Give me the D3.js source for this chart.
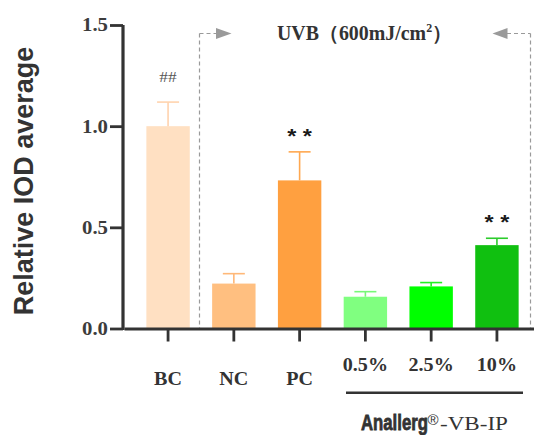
<!DOCTYPE html>
<html><head><meta charset="utf-8">
<script src="https://cdn.jsdelivr.net/npm/d3@7/dist/d3.min.js"></script>
<style>html,body{margin:0;padding:0;background:#fff;}svg{display:block;}</style>
</head><body>
<script>
const categories = ["BC","NC","PC","0.5%","2.5%","10%"];
const means = [1.00, 0.222, 0.732, 0.157, 0.208, 0.412];
const errors = [0.119, 0.049, 0.141, 0.025, 0.019, 0.034];
const barColors = ["#FFE0C2","#FFBF80","#FFA040","#80FF80","#00FF00","#10C010"];
const errColors = ["#FFD3AE","#FFB878","#FFA850","#78F878","#22F022","#2CCC2C"];
const yTicks = [0, 0.5, 1.0, 1.5];
const marks = ["##","","* *","","","* *"];

const W = 534, H = 435;
const svg = d3.select("body").append("svg").attr("width", W).attr("height", H);

const x = d3.scaleBand().domain(categories).range([124, 541]).paddingInner(0.34).paddingOuter(0.34);
const y = d3.scaleLinear().domain([0, 1.5]).range([328.5, 25]);

function fit(sel, target) {
  const n = sel.node();
  const w = n.getBBox().width;
  const k = target / w;
  const ax = +sel.attr("x"), ay = +sel.attr("y");
  sel.attr("transform", `translate(${ax},${ay}) scale(${k},1) translate(${-ax},${-ay})`);
}

// dashed UVB bracket
const dash = svg.append("g").attr("stroke", "#9a9a9a").attr("stroke-width", 1.2).attr("stroke-dasharray", "4,3").attr("fill", "none");
const xl = 199.5, xr = 530.5, yt = 33.5;
dash.append("line").attr("x1", xl).attr("x2", xl).attr("y1", yt).attr("y2", y(0));
dash.append("line").attr("x1", xl).attr("x2", 217).attr("y1", yt).attr("y2", yt);
dash.append("line").attr("x1", xr).attr("x2", xr).attr("y1", yt).attr("y2", y(0));
dash.append("line").attr("x1", 507).attr("x2", xr).attr("y1", yt).attr("y2", yt);
svg.append("path").attr("d", `M216,${yt-5.5}L231.5,${yt}L216,${yt+5.5}Z`).attr("fill", "#9a9a9a");
svg.append("path").attr("d", `M507.5,${yt-5.5}L492.5,${yt}L507.5,${yt+5.5}Z`).attr("fill", "#9a9a9a");

const uvb = svg.append("text").attr("x", 277).attr("y", 40).attr("font-family", "Liberation Serif, serif")
  .attr("font-weight", "bold").attr("font-size", 20).attr("fill", "#333");
uvb.append("tspan").text("UVB（600mJ/cm");
uvb.append("tspan").attr("dy", -8).attr("font-size", 12).text("2");
uvb.append("tspan").attr("dy", 8).text("）");
fit(uvb, 175);

// bars
svg.append("g").selectAll("rect").data(categories).join("rect")
  .attr("x", d => x(d)).attr("width", x.bandwidth())
  .attr("y", (d, i) => y(means[i])).attr("height", (d, i) => y(0) - y(means[i]))
  .attr("fill", (d, i) => barColors[i]);

// error bars
const eb = svg.append("g");
categories.forEach((c, i) => {
  const cx = x(c) + x.bandwidth() / 2;
  eb.append("line").attr("x1", cx).attr("x2", cx).attr("y1", y(means[i])).attr("y2", y(means[i] + errors[i]))
    .attr("stroke", errColors[i]).attr("stroke-width", 1.6);
  eb.append("line").attr("x1", cx - 11).attr("x2", cx + 11).attr("y1", y(means[i] + errors[i])).attr("y2", y(means[i] + errors[i]))
    .attr("stroke", errColors[i]).attr("stroke-width", 1.6);
});

// significance marks
categories.forEach((c, i) => {
  if (!marks[i]) return;
  const cx = x(c) + x.bandwidth() / 2;
  const top = y(means[i] + errors[i]);
  if (marks[i] === "##") {
    const t = svg.append("text").attr("x", cx).attr("y", top - 20).attr("text-anchor", "middle")
      .attr("font-family", "Liberation Serif, serif").attr("font-size", 15).attr("fill", "#555").text(marks[i]);
    fit(t, 18);
  } else {
    const t = svg.append("text").attr("x", cx).attr("y", top - 9).attr("text-anchor", "middle")
      .attr("font-family", "Liberation Sans, sans-serif").attr("font-weight", "bold").attr("font-size", 20).attr("fill", "#1a1a1a").text(marks[i]);
    fit(t, 25);
  }
});

// axes
const xAxis = svg.append("g").attr("transform", `translate(0,${y(0)})`)
  .call(d3.axisBottom(x).tickSize(13).tickSizeOuter(0).tickFormat(""));
xAxis.select(".domain").attr("stroke", "#333").attr("stroke-width", 3.2);
xAxis.selectAll(".tick line").attr("stroke", "#333").attr("stroke-width", 2.8);

const yAxis = svg.append("g").attr("transform", "translate(123,0)")
  .call(d3.axisLeft(y).tickValues(yTicks).tickSize(13).tickSizeOuter(0).tickFormat(d3.format(".1f")));
yAxis.select(".domain").attr("stroke", "#333").attr("stroke-width", 3.2).attr("d", `M0,${y(1.5)}V${y(0)+1.6}`);
yAxis.selectAll(".tick line").attr("stroke", "#333").attr("stroke-width", 2.8);
yAxis.selectAll(".tick text").remove();
yTicks.forEach(v => {
  const t = svg.append("text").attr("x", 108).attr("y", y(v) + 6.5).attr("text-anchor", "end")
    .attr("font-family", "Liberation Serif, serif").attr("font-weight", "bold").attr("font-size", 18).attr("fill", "#3c3c3c")
    .text(d3.format(".1f")(v));
  fit(t, 26);
});

// x labels
categories.forEach((c, i) => {
  const cx = x(c) + x.bandwidth() / 2;
  const lower = i < 3;
  const t = svg.append("text").attr("x", cx).attr("y", lower ? 385 : 371).attr("text-anchor", "middle")
    .attr("font-family", "Liberation Serif, serif").attr("font-weight", "bold").attr("font-size", 19).attr("fill", "#333").text(c);
  fit(t, t.node().getBBox().width * 1.06);
});

// group bracket line
svg.append("line").attr("x1", 346).attr("x2", 523).attr("y1", 392.7).attr("y2", 392.7).attr("stroke", "#333").attr("stroke-width", 2.6);

const an = svg.append("text").attr("x", 361).attr("y", 430.5)
  .attr("font-family", "Liberation Sans Narrow, Liberation Sans, sans-serif").attr("font-weight", "bold").attr("font-size", 22)
  .attr("fill", "#333").attr("stroke", "#333").attr("stroke-width", 0.8).text("Anallerg");
fit(an, 67);
svg.append("text").attr("x", 433).attr("y", 425).attr("text-anchor", "middle")
  .attr("font-family", "Liberation Sans, sans-serif").attr("font-size", 15).attr("fill", "#333").text("®");
const vb = svg.append("text").attr("x", 440).attr("y", 430.5)
  .attr("font-family", "Liberation Serif, serif").attr("font-size", 18).attr("fill", "#333").text("-VB-IP");
fit(vb, 68);

// y title
svg.append("text").attr("transform", "translate(33,181) rotate(-90)").attr("text-anchor", "middle")
  .attr("font-family", "Liberation Sans, Arial, sans-serif").attr("font-weight", "bold").attr("font-size", 27).attr("fill", "#333")
  .text("Relative IOD average");
</script>
</body></html>
